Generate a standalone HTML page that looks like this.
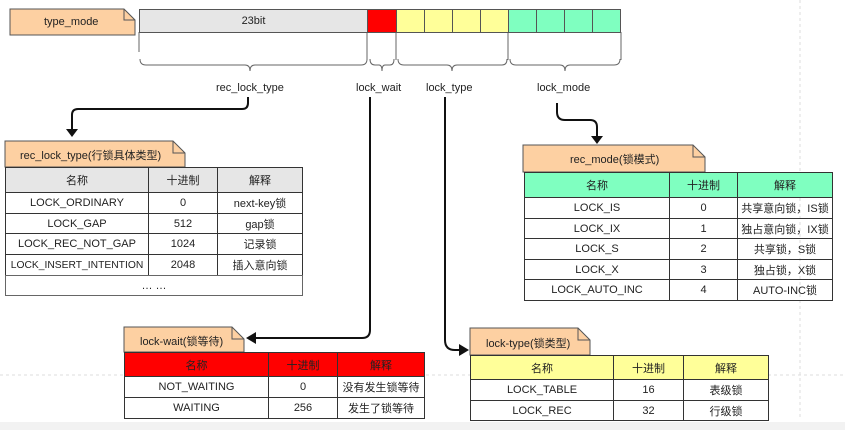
<!DOCTYPE html>
<html><head><meta charset="utf-8"><style>
body{margin:0;width:845px;height:430px;background:#fff;position:relative;overflow:hidden;font-family:"Liberation Sans","Noto Sans CJK SC",sans-serif;font-size:11px;color:#222}
.a{position:absolute;box-sizing:border-box}
.c{position:absolute;box-sizing:border-box;border:1px solid #333;display:flex;align-items:center;justify-content:center;white-space:nowrap;overflow:visible}
.t{position:absolute;white-space:nowrap;font-size:11px}
</style></head><body>
<div class="a" style="left:0;top:422px;width:845px;height:8px;background:#f2f2f2"></div>
<svg class="a" style="left:0;top:0" width="845" height="430">
<line x1="0" y1="375" x2="845" y2="375" stroke="#ddd" stroke-dasharray="3,3"/>
<line x1="800" y1="0" x2="800" y2="420" stroke="#ddd" stroke-dasharray="3,3"/>
<path d="M10 9 H124 L135 20 V35 H10 Z" fill="#fdd0a2" stroke="#555"/><path d="M124 9 V20 H135" fill="none" stroke="#555"/>
<path d="M5 141 H173 L185 153 V167 H5 Z" fill="#fdd0a2" stroke="#555"/><path d="M173 141 V153 H185" fill="none" stroke="#555"/>
<path d="M523 145 H693 L705 157 V172 H523 Z" fill="#fdd0a2" stroke="#555"/><path d="M693 145 V157 H705" fill="none" stroke="#555"/>
<path d="M124 327 H232 L244 339 V352 H124 Z" fill="#fdd0a2" stroke="#555"/><path d="M232 327 V339 H244" fill="none" stroke="#555"/>
<path d="M470 328 H578 L590 340 V355 H470 Z" fill="#fdd0a2" stroke="#555"/><path d="M578 328 V340 H590" fill="none" stroke="#555"/>
<g stroke="#666" fill="none" stroke-width="1">
<line x1="139" y1="32" x2="139" y2="52"/><line x1="367" y1="32" x2="367" y2="60"/><line x1="396" y1="32" x2="396" y2="60"/><line x1="508" y1="32" x2="508" y2="60"/><line x1="621" y1="32" x2="621" y2="60"/>
<path d="M140 59 q0 6 6 6 H245 q5 0 5 6 q0 -6 5 -6 H361 q6 0 6 -6"/>
<path d="M370 59 q0 6 5 6 H379 q3 0 3 6 q0 -6 3 -6 H390 q4 0 4 -6"/>
<path d="M398 59 q0 6 6 6 H447 q5 0 5 6 q0 -6 5 -6 H502 q5 0 5 -6"/>
<path d="M510 59 q0 6 6 6 H560 q5 0 5 6 q0 -6 5 -6 H614 q6 0 6 -6"/>
</g>
<g stroke="#111" stroke-width="2" fill="none">
<path d="M248 97 V103 q0 6 -6 6 H78 q-6 0 -6 6 V130"/>
<path d="M557 103 V112 q0 8 8 8 H590 q7 0 7 7 V138"/>
<path d="M370 97 V330 q0 8 -8 8 H254"/>
<path d="M445 97 V340 q0 10 10 10 H460"/>
</g>
<g fill="#111">
<path d="M66 129 L78 129 L72 137 Z"/>
<path d="M591 136 L603 136 L597 144 Z"/>
<path d="M256 332 L256 344 L246 338 Z"/>
<path d="M459 344 L459 356 L469 350 Z"/>
</g>
</svg>
<div class="t" style="left:44px;top:16px">type_mode</div>
<div class="c" style="left:139px;top:9px;width:229px;height:24px;background:#e6e6e6;border-color:#555">23bit</div>
<div class="c" style="left:367px;top:9px;width:30px;height:24px;background:#f00;border-color:#555"></div>
<div class="c" style="left:396px;top:9px;width:29px;height:24px;background:#ffff99;border-color:#555"></div>
<div class="c" style="left:424px;top:9px;width:29px;height:24px;background:#ffff99;border-color:#555"></div>
<div class="c" style="left:452px;top:9px;width:29px;height:24px;background:#ffff99;border-color:#555"></div>
<div class="c" style="left:480px;top:9px;width:29px;height:24px;background:#ffff99;border-color:#555"></div>
<div class="c" style="left:508px;top:9px;width:29px;height:24px;background:#7fffc0;border-color:#555"></div>
<div class="c" style="left:536px;top:9px;width:29px;height:24px;background:#7fffc0;border-color:#555"></div>
<div class="c" style="left:564px;top:9px;width:29px;height:24px;background:#7fffc0;border-color:#555"></div>
<div class="c" style="left:592px;top:9px;width:29px;height:24px;background:#7fffc0;border-color:#555"></div>
<div class="t" style="left:216px;top:82px">rec_lock_type</div>
<div class="t" style="left:356px;top:82px">lock_wait</div>
<div class="t" style="left:426px;top:82px">lock_type</div>
<div class="t" style="left:537px;top:82px">lock_mode</div>
<div class="t" style="left:20px;top:147px">rec_lock_type(行锁具体类型)</div>
<div class="t" style="left:570px;top:151px">rec_mode(锁模式)</div>
<div class="t" style="left:140px;top:333px">lock-wait(锁等待)</div>
<div class="t" style="left:486px;top:335px">lock-type(锁类型)</div>
<div id="tables"></div>
<script>
function tbl(x,y,cols,rows,hb){
 let h='',cx=[x];cols.forEach(w=>cx.push(cx[cx.length-1]+w));
 let yy=y;
 rows.forEach((r,i)=>{
  let rh=r[0];
  if(r.length==2){h+=`<div class="c" style="left:${x}px;top:${yy}px;width:${cx[cx.length-1]-x+1}px;height:${rh+1}px;border-color:#666">${r[1]}</div>`;}
  else for(let j=0;j<3;j++){let fs=(r[j+1].length>18)?'font-size:10.3px;':'';h+=`<div class="c" style="left:${cx[j]}px;top:${yy}px;width:${cols[j]+1}px;height:${rh+1}px;${fs}${i==0?'background:'+hb+';':''}">${r[j+1]}</div>`;}
  yy+=rh;
 });
 return h;
}
let H='';
H+=tbl(5,167,[143,69,85],[[25,'名称','十进制','解释'],[21,'LOCK_ORDINARY','0','next-key锁'],[20,'LOCK_GAP','512','gap锁'],[21,'LOCK_REC_NOT_GAP','1024','记录锁'],[21,'LOCK_INSERT_INTENTION','2048','插入意向锁'],[20,'… …']],'#e6e6e6');
H+=tbl(524,172,[145,68,95],[[25,'名称','十进制','解释'],[21,'LOCK_IS','0','共享意向锁，IS锁'],[20,'LOCK_IX','1','独占意向锁，IX锁'],[21,'LOCK_S','2','共享锁，S锁'],[20,'LOCK_X','3','独占锁，X锁'],[21,'LOCK_AUTO_INC','4','AUTO-INC锁']],'#7fffc0');
H+=tbl(124,352,[144,69,87],[[24,'名称','十进制','解释'],[21,'NOT_WAITING','0','没有发生锁等待'],[21,'WAITING','256','发生了锁等待']],'#f00');
H+=tbl(470,355,[143,70,85],[[24,'名称','十进制','解释'],[21,'LOCK_TABLE','16','表级锁'],[20,'LOCK_REC','32','行级锁']],'#ffff99');
document.getElementById('tables').innerHTML=H;
</script>
</body></html>
